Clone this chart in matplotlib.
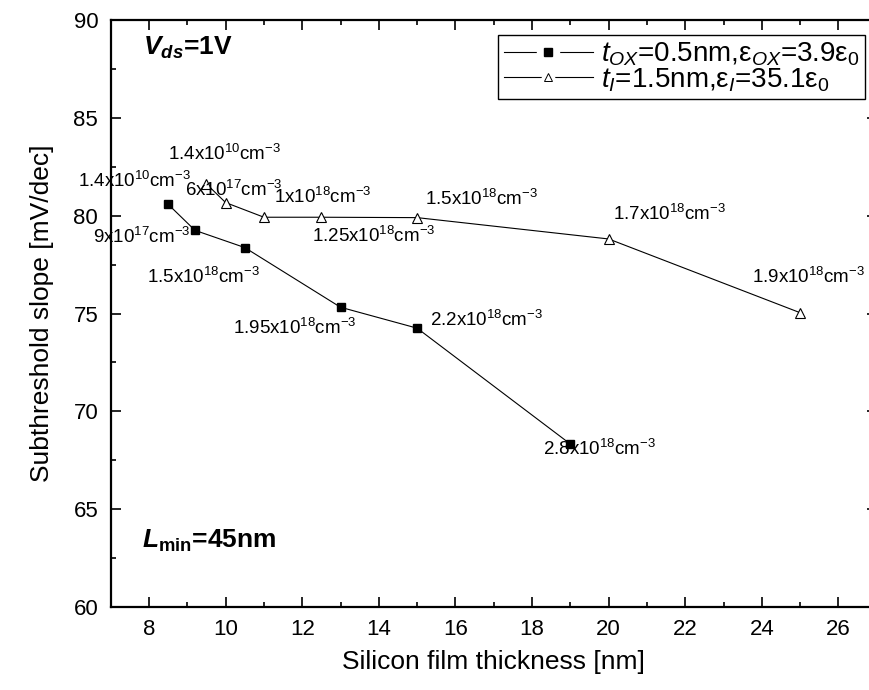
import matplotlib
matplotlib.use('Agg')
import matplotlib.pyplot as plt
from matplotlib.lines import Line2D
from matplotlib.legend_handler import HandlerTuple
from matplotlib.ticker import MultipleLocator

plt.rcParams['font.family'] = ['Liberation Sans', 'DejaVu Sans']
plt.rcParams['mathtext.fontset'] = 'custom'
plt.rcParams['mathtext.rm'] = 'Liberation Sans'
plt.rcParams['mathtext.it'] = 'Liberation Sans:italic'
plt.rcParams['mathtext.bf'] = 'Liberation Sans:bold'
plt.rcParams['mathtext.bfit'] = 'Liberation Sans:bold:italic'

# ** data **
tsi_ox = [8.5, 9.2, 10.5, 13, 15, 19]
ss_ox = [80.58, 79.25, 78.37, 75.32, 74.25, 68.33]
doping_ox = ['1.4x10$^{10}$cm$^{-3}$', '9x10$^{17}$cm$^{-3}$', '1.5x10$^{18}$cm$^{-3}$',
             '1.95x10$^{18}$cm$^{-3}$', '2.2x10$^{18}$cm$^{-3}$', '2.8x10$^{18}$cm$^{-3}$']

tsi_hk = [9.5, 10, 11, 12.5, 15, 20, 25]
ss_hk = [81.62, 80.67, 79.92, 79.92, 79.9, 78.81, 75.04]
doping_hk = ['1.4x10$^{10}$cm$^{-3}$', '6x10$^{17}$cm$^{-3}$', '1x10$^{18}$cm$^{-3}$',
             '1.25x10$^{18}$cm$^{-3}$', '1.5x10$^{18}$cm$^{-3}$', '1.7x10$^{18}$cm$^{-3}$',
             '1.9x10$^{18}$cm$^{-3}$']

# label offsets from their point (pixels)
off_ox = [(-90, 17), (-102, -13), (-98, -35), (-108, -27), (13, 2), (-27, -11)]
off_hk = [(-38, 24), (-41, 7), (10, 14), (-9, -25), (8, 13), (4, 19), (-48, 30)]

fig = plt.figure(figsize=(8.69, 6.90), dpi=100)
ax = fig.add_axes([0.1274, 0.1203, 0.8815, 0.8507])

l1, = ax.plot(tsi_ox, ss_ox, color='black', lw=0.8, marker='s', ms=6,
              mfc='black', mec='black')
l2, = ax.plot(tsi_hk, ss_hk, color='black', lw=0.8, marker='^', ms=7.5,
              mfc='white', mec='black', mew=0.8)

for x, y, s, o in zip(tsi_ox, ss_ox, doping_ox, off_ox):
    ax.annotate(s, (x, y), xytext=o, textcoords='offset pixels',
                ha='left', va='baseline', fontsize=13.5)
for x, y, s, o in zip(tsi_hk, ss_hk, doping_hk, off_hk):
    ax.annotate(s, (x, y), xytext=o, textcoords='offset pixels',
                ha='left', va='baseline', fontsize=13.5)

ax.set_xlim(7, 27)
ax.set_ylim(60, 90)
ax.xaxis.set_major_locator(MultipleLocator(2))
ax.xaxis.set_minor_locator(MultipleLocator(1))
ax.yaxis.set_major_locator(MultipleLocator(5))
ax.yaxis.set_minor_locator(MultipleLocator(2.5))
ax.tick_params(which='both', direction='in', top=True, right=True, width=1.2)
ax.tick_params(which='major', length=7.5, labelsize=16)
ax.tick_params(axis='x', which='major', pad=9)
ax.tick_params(axis='y', which='major', pad=9)
ax.tick_params(which='minor', length=3.8)
for sp in ax.spines.values():
    sp.set_linewidth(1.6)

ax.set_xlabel('Silicon film thickness [nm]', fontsize=19, labelpad=7)
ax.set_ylabel('Subthreshold slope [mV/dec]', fontsize=19, labelpad=14)

ax.text(0.042, 0.94, r'$\mathbfit{V}_{\mathbfit{ds}}$=1V', transform=ax.transAxes,
        fontsize=19, fontweight='bold', va='baseline')
ax.text(0.041, 0.1, r'$\mathbfit{L}_{\mathbf{min}}$=45nm', transform=ax.transAxes,
        fontsize=19, fontweight='bold', va='baseline')

# legend with little gaps around the markers
gap1 = Line2D([], [], ls='none', marker='s', ms=16, mfc='white', mec='white')
gap2 = Line2D([], [], ls='none', marker='^', ms=17, mfc='white', mec='white')
base = Line2D([], [], color='black', lw=0.8)
h1 = Line2D([], [], ls='none', marker='s', ms=5.5, mfc='black', mec='black')
h2 = Line2D([], [], ls='none', marker='^', ms=6, mfc='white', mec='black', mew=0.7)
leg = ax.legend([(base, gap1, h1), (base, gap2, h2)],
                [r'$t_{OX}$=0.5nm,ε$_{OX}$=3.9ε$_0$', r'$t_{I}$=1.5nm,ε$_{I}$=35.1ε$_0$'],
                handler_map={tuple: HandlerTuple(ndivide=1)},
                loc='upper right', bbox_to_anchor=(0.985, 0.974), borderaxespad=0,
                fontsize=20, handlelength=3.2, handletextpad=0.3, labelspacing=-0.08,
                borderpad=0.2, fancybox=False, framealpha=1, edgecolor='black')
leg.get_frame().set_linewidth(1.0)

plt.savefig('out.png', dpi=100)
